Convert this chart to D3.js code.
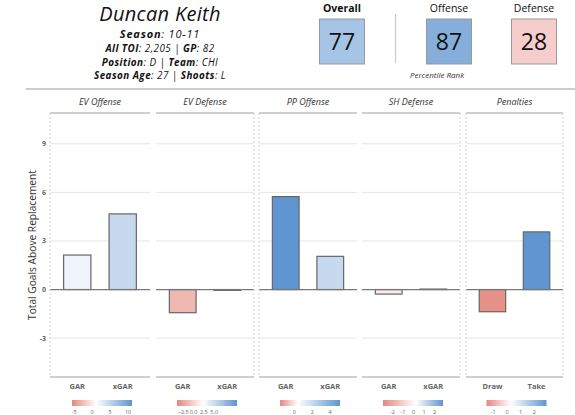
<!DOCTYPE html>
<html><head><meta charset="utf-8">
<script src="https://cdn.jsdelivr.net/npm/d3@7"></script>
<style>body{margin:0;background:#fff}svg{display:block;font-family:"Open Sans",sans-serif}</style>
</head><body><svg id="c" width="575" height="415"></svg>
<script>
// ---- data ----
const playerName = "Duncan Keith";
const infoLines = [
  [["Season", ": 10-11"]],
  [["All TOI", ": 2,205 | "], ["GP", ": 82"]],
  [["Position", ": D | "], ["Team", ": CHI"]],
  [["Season Age", ": 27 | "], ["Shoots", ": L"]]
];
const rankLabels = ["Overall", "Offense", "Defense"];
const rankValues = [77, 87, 28];
const panels = ["EV Offense", "EV Defense", "PP Offense", "SH Defense", "Penalties"];
const barLabels = [["GAR","xGAR"],["GAR","xGAR"],["GAR","xGAR"],["GAR","xGAR"],["Draw","Take"]];
const barValues = [[2.13, 4.67], [-1.43, -0.05], [5.74, 2.05], [-0.28, 0.03], [-1.37, 3.56]];
const yTicks = [-3, 0, 3, 6, 9];
const legendTicks = [[-5,0,5,10],[-2.5,0,2.5,5],[0,2,4],[-2,-1,0,1,2],[-1,0,1,2]];
const legendDomains = [[-5.6,11.1],[-4,10.5],[-1.6,5.1],[-2.9,2.8],[-1.5,2.9]];
const legendMids = [1.1, 2.3, 0.35, 0.2, 0.3];

// ---- drawing ----
const svg = d3.select("#c");
const RED = "#e5877f", WHITE = "#ffffff", BLUE = "#5f95d0";

// header left
svg.append("text").attr("x",160).attr("y",20.5).attr("text-anchor","middle")
  .attr("font-size",20).attr("font-style","italic").attr("letter-spacing",0.3)
  .attr("fill","#111").text(playerName);
const lineY = [38.3, 52.4, 65.9, 79.4];
const lineSize = [11, 9.9, 9.9, 9.9];
const lineSpacing = [0.8, 0.45, 0.45, 0.45];
infoLines.forEach((parts,i)=>{
  const t = svg.append("text").attr("x",160).attr("y",lineY[i]).attr("text-anchor","middle")
    .attr("font-size",lineSize[i]).attr("letter-spacing",lineSpacing[i])
    .attr("font-style","italic").attr("fill","#111");
  parts.forEach(p=>{
    t.append("tspan").attr("font-weight","bold").text(p[0]);
    t.append("tspan").text(p[1]);
  });
});

// header right: percentile boxes
const rankPos = {Overall:342, Offense:449, Defense:534};
const rankFill = d3.scaleLinear().domain([0,50,100]).range(["#e8908c","#ffffff","#5a92cf"]);
rankLabels.forEach((lab,i)=>{
  const cx = rankPos[lab];
  svg.append("text").attr("x",cx).attr("y",12).attr("text-anchor","middle")
    .attr("font-size",10.5).attr("font-weight", i===0?"bold":"normal").attr("fill","#111").text(lab);
  svg.append("rect").attr("x",cx-22.5).attr("y",19).attr("width",45).attr("height",45)
    .attr("fill",rankFill(rankValues[i])).attr("stroke","#999").attr("stroke-width",1);
  svg.append("text").attr("x",cx).attr("y",50).attr("text-anchor","middle")
    .attr("font-size",23).attr("fill","#111").text(rankValues[i]);
});
svg.append("line").attr("x1",395.5).attr("x2",395.5).attr("y1",14).attr("y2",63)
  .attr("stroke","#ccc").attr("stroke-width",1.2);
svg.append("text").attr("x",437).attr("y",78).attr("text-anchor","middle")
  .attr("font-size",8).attr("font-style","italic").attr("fill","#333").text("Percentile Rank");
svg.append("line").attr("x1",26).attr("x2",575).attr("y1",89).attr("y2",89)
  .attr("stroke","#bbb").attr("stroke-width",1.5);

// panels
const panelX = [[50,150],[156,254],[259,357],[362,460],[466,563]];
const y = d3.scaleLinear().domain([-5.4, 10.9]).range([377, 113]);
const defs = svg.append("defs");

panels.forEach((name,p)=>{
  const [x0,x1] = panelX[p];
  const g = svg.append("g");
  const dom = legendDomains[p];
  const col = d3.scaleLinear().domain([dom[0], legendMids[p], dom[1]]).range([RED, WHITE, BLUE]).clamp(true);
  // title
  g.append("text").attr("x",(x0+x1)/2).attr("y",105).attr("text-anchor","middle")
    .attr("font-size",9).attr("font-style","italic").attr("fill","#333").text(name);
  // grid
  yTicks.filter(t=>t!==0).forEach(t=>{
    g.append("line").attr("x1",x0).attr("x2",x1).attr("y1",y(t)).attr("y2",y(t))
      .attr("stroke","#e6e6e6").attr("stroke-width",1);
  });
  // frame top/bottom
  [y.range()[1], y.range()[0]].forEach(yy=>{
    g.append("line").attr("x1",x0).attr("x2",x1).attr("y1",yy).attr("y2",yy)
      .attr("stroke","#cfcfcf").attr("stroke-width",2);
  });
  // bars
  const xb = d3.scaleBand().domain(barLabels[p]).range([x0,x1]).paddingInner(0.4).paddingOuter(0.3);
  barLabels[p].forEach((lab,i)=>{
    const v = barValues[p][i];
    g.append("rect").attr("x",xb(lab)).attr("width",xb.bandwidth())
      .attr("y",y(Math.max(0,v))).attr("height",Math.abs(y(v)-y(0)))
      .attr("fill",col(v)).attr("stroke","#666").attr("stroke-width",1.2);
    g.append("text").attr("x",xb(lab)+xb.bandwidth()/2).attr("y",389).attr("text-anchor","middle")
      .attr("font-size",7.5).attr("font-weight","bold").attr("fill","#666").text(lab);
  });
  // zero line
  g.append("line").attr("x1",x0).attr("x2",x1).attr("y1",y(0)).attr("y2",y(0))
    .attr("stroke","#777").attr("stroke-width",1.3);
  // legend
  const lc = (x0+x1)/2 + 2;
  const lx = d3.scaleLinear().domain(dom).range([lc-30, lc+30]);
  const gid = "grad"+p;
  const grad = defs.append("linearGradient").attr("id",gid);
  d3.range(0,1.0001,0.05).forEach(f=>{
    const v = dom[0] + f*(dom[1]-dom[0]);
    grad.append("stop").attr("offset",f).attr("stop-color",col(v));
  });
  g.append("rect").attr("x",lx.range()[0]).attr("y",400).attr("width",60).attr("height",6)
    .attr("fill",`url(#${gid})`);
  legendTicks[p].forEach(t=>{
    g.append("text").attr("x",lx(t)).attr("y",414).attr("text-anchor","middle")
      .attr("font-size",5.5).attr("fill","#666").text(p===1? d3.format(".1f")(t) : t);
  });
});

// dashed group borders
[50, 254, 259, 460, 466, 563].forEach(x=>{
  svg.append("line").attr("x1",x).attr("x2",x).attr("y1",113).attr("y2",377)
    .attr("stroke","#cfcfcf").attr("stroke-width",1).attr("stroke-dasharray","2,2");
});

// y axis
yTicks.forEach(t=>{
  svg.append("text").attr("x",46).attr("y",y(t)+2.5).attr("text-anchor","end")
    .attr("font-size",7).attr("font-weight","bold").attr("fill","#666").text(t);
});
svg.append("text").attr("transform",`translate(36,${(y.range()[0]+y.range()[1])/2}) rotate(-90)`)
  .attr("text-anchor","middle").attr("font-size",10.2).attr("fill","#333")
  .text("Total Goals Above Replacement");
</script></body></html>
